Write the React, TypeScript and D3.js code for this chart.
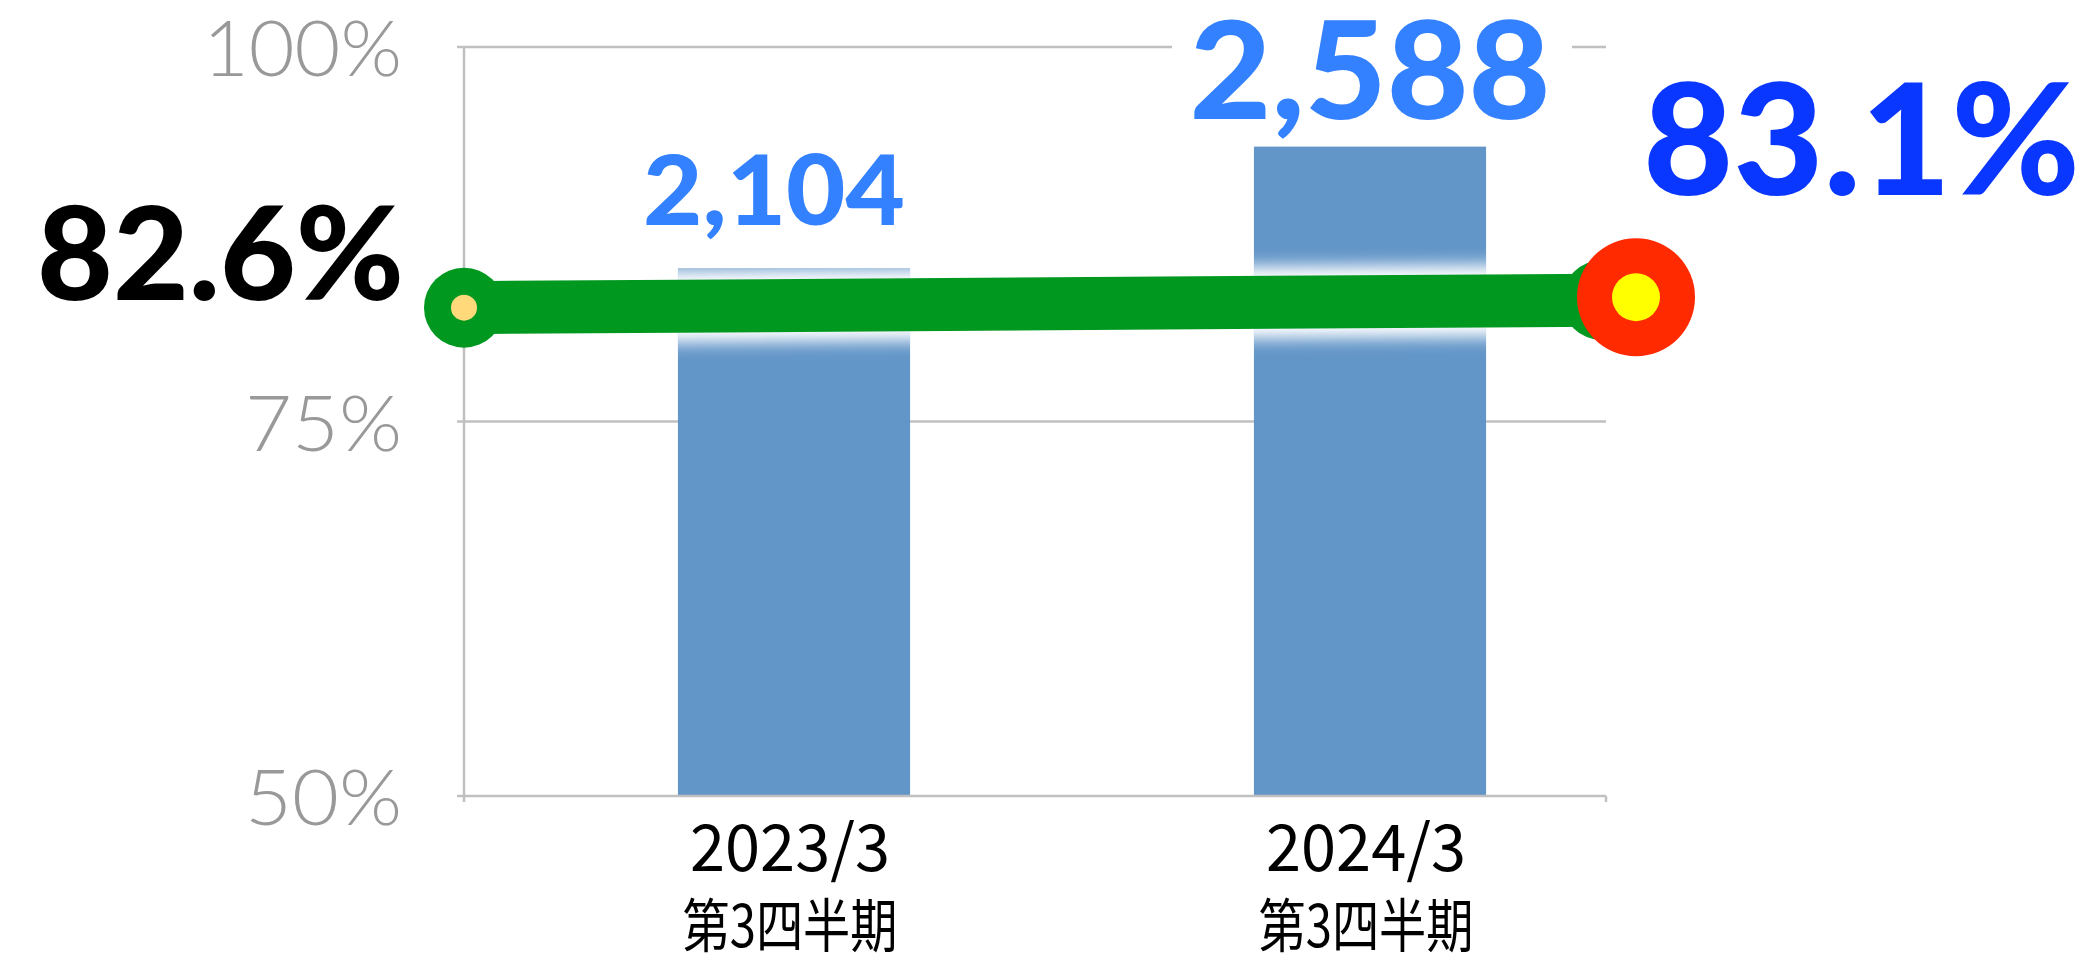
import React from "react";
import * as d3 from "d3";

const categories = ["2023/3", "2024/3"];
const categorySub = ["第3四半期", "第3四半期"];
const barValues = [2104, 2588];
const barLabels = ["2,104", "2,588"];
const rateValues = [82.6, 83.1];
const rateLabels = ["82.6%", "83.1%"];
const yTicks = [50, 75, 100];
const yTickLabels = ["50%", "75%", "100%"];

const W = 2096;
const H = 965;

export default function App() {
  const plotLeft = 464;
  const plotRight = 1606;
  const plotTop = 47;
  const plotBottom = 796;

  const yPct = d3.scaleLinear().domain([50, 100]).range([plotBottom, plotTop]);
  const yBar = d3.scaleLinear().domain([0, 2985]).range([plotBottom, plotTop]);
  const xBand = d3
    .scaleBand<string>()
    .domain(categories)
    .range([506, 1658])
    .paddingInner(0.597)
    .paddingOuter(0.2985);
  const xLine = d3.scalePoint<string>().domain(categories).range([plotLeft, plotRight - 4]);

  const lineGen = d3
    .line<number>()
    .x((_, i) => xLine(categories[i]) as number)
    .y((d) => yPct(d));
  const linePath = lineGen(rateValues) || "";

  const gridColor = "#c0c0c0";
  const bigFont = "Lato, 'Open Sans', sans-serif";
  const barColor = "#6396c8";
  const green = "#00981f";

  const p0x = xLine(categories[0]) as number;
  const p0y = yPct(rateValues[0]);
  const p1x = xLine(categories[1]) as number;
  const p1y = yPct(rateValues[1]);

  return (
    <svg
      width={W}
      height={H}
      style={{ position: "absolute", left: 0, top: 0, background: "#fff" }}
    >
      <defs>
        <filter id="glow" filterUnits="userSpaceOnUse" x={0} y={0} width={W} height={H}>
          <feGaussianBlur stdDeviation="8" />
        </filter>
        <clipPath id="barsClip">
          {categories.map((c, i) => (
            <rect
              key={c}
              x={xBand(c)}
              y={yBar(barValues[i])}
              width={xBand.bandwidth()}
              height={plotBottom - yBar(barValues[i])}
            />
          ))}
        </clipPath>
      </defs>
      <rect x={0} y={0} width={W} height={H} fill="#fff" />

      {/* gridlines */}
      {yTicks
        .filter((t) => t !== 50)
        .map((t) => (
          <line
            key={t}
            x1={plotLeft}
            x2={plotRight}
            y1={yPct(t)}
            y2={yPct(t)}
            stroke={gridColor}
            strokeWidth={2.5}
          />
        ))}

      {/* y tick labels */}
      {yTicks.map((t, i) => (
        <text
          key={t}
          x={402}
          y={yPct(t) + 29}
          textAnchor="end"
          fontFamily="Lato, 'DejaVu Sans', sans-serif"
          fontWeight={300}
          fontSize={76}
          fill="#999999"
          textLength={t === 100 ? 199 : 157}
          lengthAdjust="spacingAndGlyphs"
        >
          {yTickLabels[i]}
        </text>
      ))}

      {/* bars */}
      {categories.map((c, i) => (
        <rect
          key={c}
          x={xBand(c)}
          y={yBar(barValues[i])}
          width={xBand.bandwidth()}
          height={plotBottom - yBar(barValues[i])}
          fill={barColor}
        />
      ))}

      {/* axes */}
      <line x1={plotLeft} x2={plotLeft} y1={plotTop} y2={plotBottom + 6} stroke={gridColor} strokeWidth={2.5} />
      {yTicks.map((t) => (
        <line key={"tk" + t} x1={plotLeft - 7} x2={plotLeft} y1={yPct(t)} y2={yPct(t)} stroke={gridColor} strokeWidth={2.5} />
      ))}
      <line x1={plotLeft} x2={plotRight} y1={plotBottom} y2={plotBottom} stroke={gridColor} strokeWidth={2.5} />
      <line x1={plotRight} x2={plotRight} y1={plotBottom} y2={plotBottom + 6} stroke={gridColor} strokeWidth={2.5} />

      {/* x labels */}
      {categories.map((c, i) => {
        const cx = (xBand(c) as number) + xBand.bandwidth() / 2 - 4;
        return (
          <g key={"xl" + c}>
            <text
              x={cx}
              y={871}
              textAnchor="middle"
              fontFamily="'Noto Sans CJK JP', sans-serif"
              fontSize={64}
              fill="#000"
              textLength={200}
              lengthAdjust="spacingAndGlyphs"
            >
              {c}
            </text>
            <text
              x={cx}
              y={947}
              textAnchor="middle"
              fontFamily="'Noto Sans CJK JP', sans-serif"
              fontSize={58}
              fill="#000"
              textLength={215}
              lengthAdjust="spacingAndGlyphs"
            >
              {categorySub[i]}
            </text>
          </g>
        );
      })}

      {/* glow of the line over bars */}
      <g clipPath="url(#barsClip)">
        <path d={linePath} fill="none" stroke="#ffffff" strokeWidth={72} filter="url(#glow)" />
      </g>

      {/* line */}
      <path d={linePath} fill="none" stroke={green} strokeWidth={53} />

      {/* markers */}
      <circle cx={p0x} cy={p0y} r={40} fill={green} />
      <circle cx={p0x} cy={p0y} r={13} fill="#ffd97a" />
      <circle cx={p1x} cy={p1y} r={40} fill={green} />
      <circle cx={p1x + 34} cy={p1y - 3} r={59} fill="#ff2a00" />
      <circle cx={p1x + 34} cy={p1y - 3} r={24} fill="#ffff00" />

      {/* bar labels */}
      <text
        x={774}
        y={225}
        textAnchor="middle"
        fontFamily={bigFont}
        fontWeight={900}
        fontSize={97}
        fill="#3381ff"
        textLength={262}
        lengthAdjust="spacingAndGlyphs"
      >
        {barLabels[0]}
      </text>
      <rect x={1172} y={15} width={400} height={120} fill="#fff" />
      <text
        x={1370}
        y={119}
        textAnchor="middle"
        fontFamily={bigFont}
        fontWeight={900}
        fontSize={135}
        fill="#3381ff"
        textLength={361}
        lengthAdjust="spacingAndGlyphs"
      >
        {barLabels[1]}
      </text>

      {/* rate labels */}
      <text
        x={37}
        y={300}
        fontFamily={bigFont}
        fontWeight={900}
        fontSize={129}
        fill="#000"
        textLength={367}
        lengthAdjust="spacingAndGlyphs"
      >
        {rateLabels[0]}
      </text>
      <text
        x={1643}
        y={195}
        fontFamily={bigFont}
        fontWeight={900}
        fontSize={155}
        fill="#0a37ff"
        textLength={437}
        lengthAdjust="spacingAndGlyphs"
      >
        {rateLabels[1]}
      </text>
    </svg>
  );
}
